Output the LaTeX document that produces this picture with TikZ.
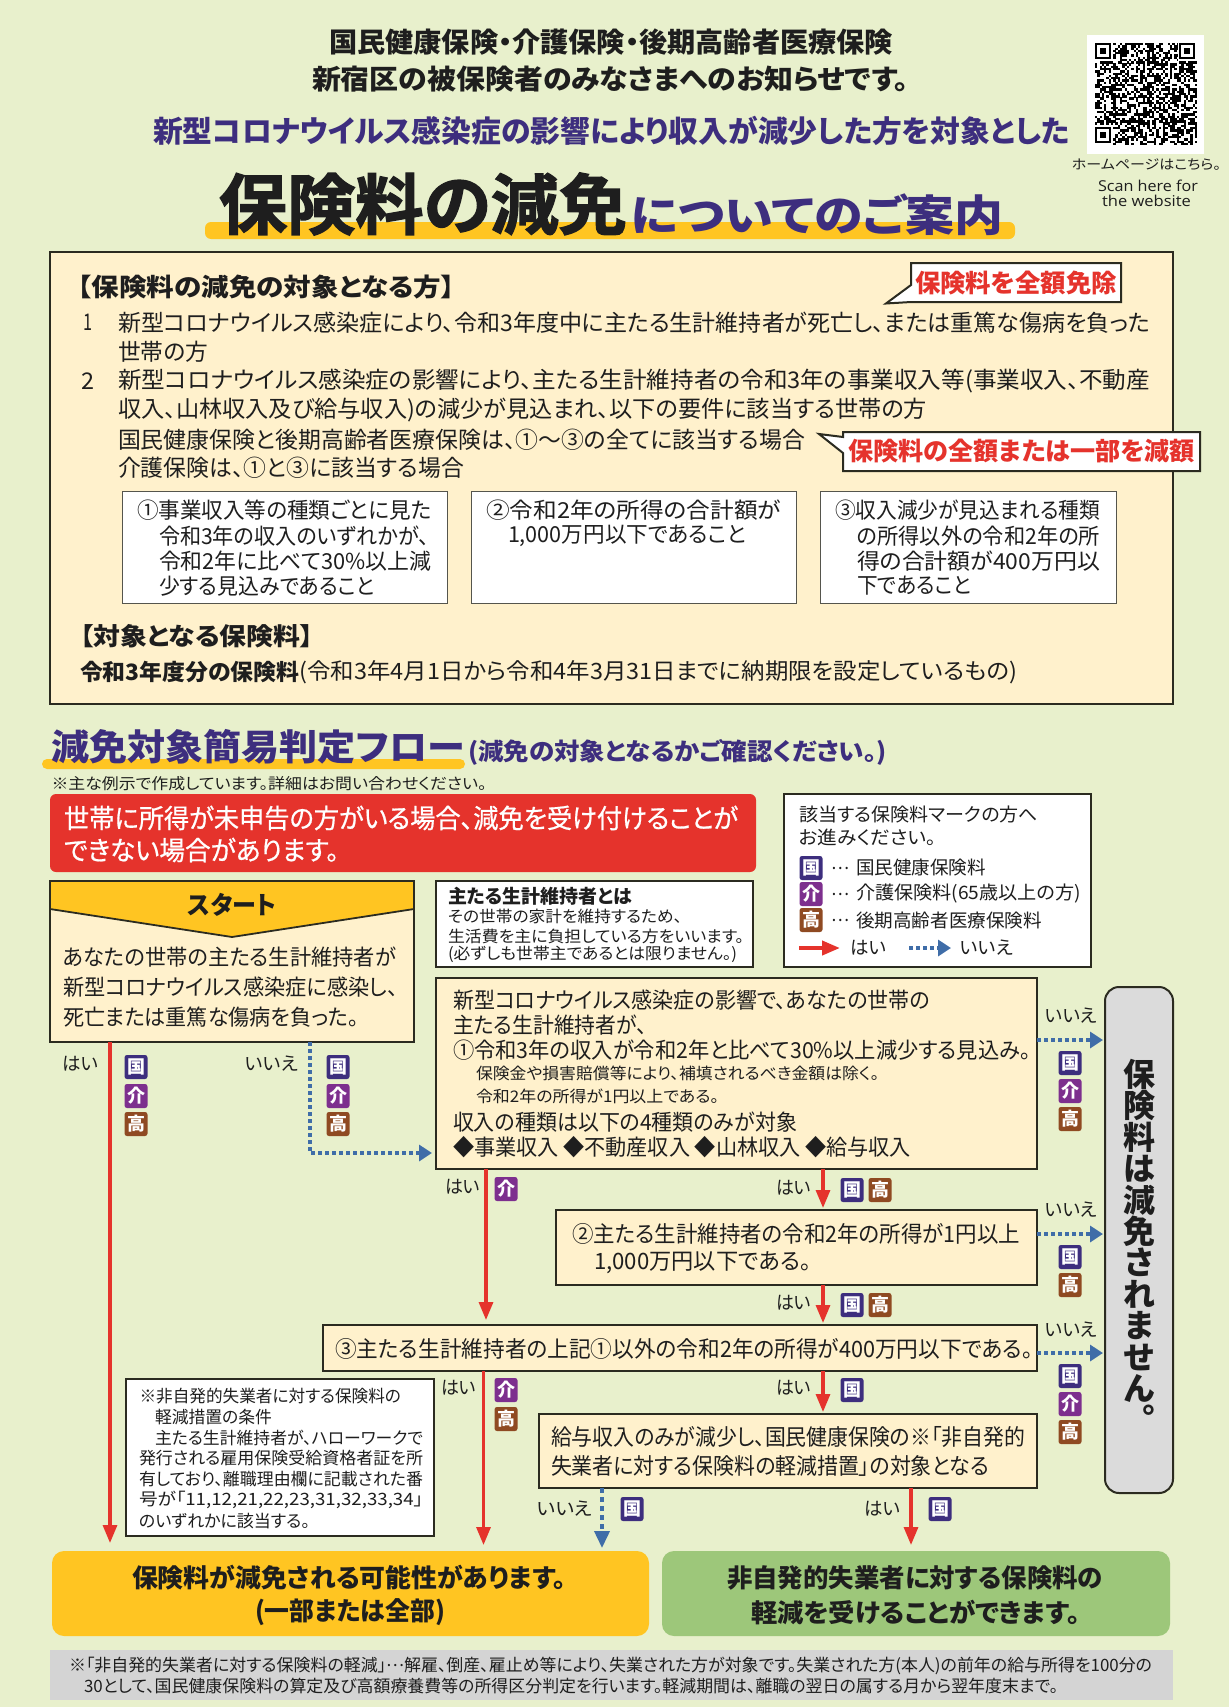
\documentclass[tikz,border=0pt]{standalone}
\usepackage{fontspec}
\usetikzlibrary{arrows.meta}
\setmainfont{Noto Sans CJK JP}[RawFeature=+palt]
\newfontfamily\jpblack{Noto Sans CJK JP Bold}[FakeBold=2,RawFeature=+palt]
\newfontfamily\jpmed{Noto Sans CJK JP}[FakeBold=0.7,RawFeature=+palt]
\newfontfamily\enfont{Open Sans}
\definecolor{bgc}{HTML}{E8F0CC}
\definecolor{cream}{HTML}{FFF1CC}
\definecolor{yel}{HTML}{FFC522}
\definecolor{redc}{HTML}{E5332C}
\definecolor{grn}{HTML}{9DC77A}
\definecolor{navy}{HTML}{3D2E7E}
\definecolor{purp}{HTML}{7D2F8E}
\definecolor{brwn}{HTML}{8F4A22}
\definecolor{blu}{HTML}{3F6DA8}
\definecolor{ink}{HTML}{1E1E1E}
\definecolor{edge}{HTML}{2B2B20}
\tikzset{
  f/.style={font=\fontsize{#1}{#1}\selectfont},
  fb/.style={font=\bfseries\fontsize{#1}{#1}\selectfont},
  fk/.style={font=\jpblack\fontsize{#1}{#1}\selectfont},
  fm/.style={font=\jpmed\fontsize{#1}{#1}\selectfont},
  txt/.style={anchor=west,inner sep=0pt,outer sep=0pt,text=ink},
  box/.style={draw=edge,line width=1.8pt,fill=cream,inner sep=0pt,outer sep=0pt,anchor=north west},
  wbox/.style={box,fill=white},
  sbox/.style={box,fill=white,line width=1pt,draw=edge!80},
  flat/.style={inner sep=0pt,outer sep=0pt,anchor=north west},
  yesarrow/.style={draw=redc,line width=3.2pt,-{Triangle[length=18pt,width=14pt,fill=redc]},shorten >=1pt},
  noarrow/.style={draw=blu,line width=3.6pt,dash pattern=on 4pt off 3pt,-{Triangle[length=13pt,width=16pt,fill=blu]}},
  noarrowv/.style={draw=blu,line width=3.6pt,dash pattern=on 5pt off 4pt,-{Triangle[length=17pt,width=15pt,fill=blu]}},
  badge/.style={rounded corners=2.5pt,inner sep=0pt,outer sep=0pt,minimum width=23pt,minimum height=24pt,text=white,font=\bfseries\fontsize{18}{18}\selectfont},
}
\newcounter{tc}\newcounter{bc}
\newcommand{\tx}[5]{\stepcounter{tc}\node[txt,#1] (t\arabic{tc}) at (#2,#4) {\vphantom{国}\resizebox{\dimexpr#3pt-#2pt\relax}{\height}{#5}};}
\newcommand{\txe}[5]{\stepcounter{tc}\node[txt,#1] (t\arabic{tc}) at (#2,#4) {\vphantom{Sp}\resizebox{\dimexpr#3pt-#2pt\relax}{\height}{#5}};}
\newcommand{\bxn}[6]{\node[#2,minimum width={#5pt-#3pt},minimum height={#6pt-#4pt}] (#1) at (#3,#4) {};}
\newcommand{\bdg}[4]{\stepcounter{bc}\node[badge,fill=#1] (b\arabic{bc}) at (#3,#4) {#2};}
\newcommand{\bdK}[2]{\bdg{navy}{国}{#1}{#2}}
\newcommand{\bdA}[2]{\bdg{purp}{介}{#1}{#2}}
\newcommand{\bdC}[2]{\bdg{brwn}{高}{#1}{#2}}
\newcommand{\midots}{\raisebox{.28em}{…}}
\begin{document}
\begin{tikzpicture}[x=1pt,y=-1pt]
\useasboundingbox (0,0) rectangle (1229,1707);
\fill[bgc] (0,0) rectangle (1229,1707);

% --- header
\tx{fb=27.5}{329}{893}{41.7}{国民健康保険・介護保険・後期高齢者医療保険}
\tx{fb=27.5}{312}{909}{79}{新宿区の被保険者のみなさまへのお知らせです。}
\tx{fb=30,text=navy}{153}{1070}{131}{新型コロナウイルス感染症の影響により収入が減少した方を対象とした}
\node[flat,fill=yel,rounded corners=6pt,minimum width=810pt,minimum height=17pt] (ul1) at (205,222) {};
\tx{fk=66}{219}{627}{204}{保険料の減免}
\tx{fb=43,text=navy}{631}{1003}{215}{についてのご案内}

% --- QR
\node[flat,fill=white,minimum width=117pt,minimum height=119pt] (qr) at (1087,35) {};
\begin{scope}[shift={(1095,43)}]
\pgfmathsetseed{4711}
\foreach \i in {0,...,44}{\foreach \j in {0,...,44}{%
  \pgfmathrandominteger{\rr}{0}{9}%
  \ifnum\rr<5 \fill[black] (\i*2.27,\j*2.27) rectangle ++(2.35,2.35);\fi}}
\foreach \ox/\oy in {0/0,37/0,0/37}{
  \fill[white] (\ox*2.27-1.5,\oy*2.27-1.5) rectangle ++(8*2.27+1,8*2.27+1);
  \fill[black] (\ox*2.27,\oy*2.27) rectangle ++(7*2.27,7*2.27);
  \fill[white] (\ox*2.27+2.27,\oy*2.27+2.27) rectangle ++(5*2.27,5*2.27);
  \fill[black] (\ox*2.27+4.54,\oy*2.27+4.54) rectangle ++(3*2.27,3*2.27);
}
\end{scope}
\tx{f=13.5}{1072}{1221}{165}{ホームページはこちら。}
\txe{font=\enfont\fontsize{15}{15}\selectfont}{1098}{1198}{188}{Scan here for}
\txe{font=\enfont\fontsize{15}{15}\selectfont}{1102}{1191}{203}{the website}

% --- main information box
\bxn{mainbox}{box}{50}{252}{1173}{704}
\tx{fb=25}{78}{455}{287}{【保険料の減免の対象となる方】}
\tx{f=23}{83}{92}{322.7}{1}
\tx{f=23}{118}{1150}{322.7}{新型コロナウイルス感染症により、令和3年度中に主たる生計維持者が死亡し、または重篤な傷病を負った}
\tx{f=23}{118}{208}{351.7}{世帯の方}
\tx{f=23}{81}{94}{381}{2}
\tx{f=23}{118}{1150}{381}{新型コロナウイルス感染症の影響により、主たる生計維持者の令和3年の事業収入等(事業収入、不動産}
\tx{f=23}{118}{927}{410}{収入、山林収入及び給与収入)の減少が見込まれ、以下の要件に該当する世帯の方}
\tx{f=23}{118}{805}{440}{国民健康保険と後期高齢者医療保険は、①～③の全てに該当する場合}
\tx{f=23}{118}{464}{468}{介護保険は、①と③に該当する場合}
% callouts
\draw[fill=white,draw=edge,line width=2pt,line join=miter] (911,263)--(1121,263)--(1121,302)--(911,302)--(886,303.5)--(911,285)--cycle;
\tx{fb=25,text=redc}{915}{1117}{283}{保険料を全額免除}
\draw[fill=white,draw=edge,line width=2pt,line join=miter] (843,432)--(1200,432)--(1200,471)--(843,471)--(843,453)--(819,434)--(843,437)--cycle;
\tx{fb=25,text=redc}{848.5}{1195}{451}{保険料の全額または一部を減額}
% requirement boxes
\bxn{req1}{sbox}{122}{491}{447}{603}
\bxn{req2}{sbox}{471}{491}{796}{603}
\bxn{req3}{sbox}{820}{491}{1116}{603}
\tx{f=22}{137}{431.5}{510}{①事業収入等の種類ごとに見た}
\tx{f=22}{159}{429}{536}{令和3年の収入のいずれかが、}
\tx{f=22}{159}{431}{561}{令和2年に比べて30\%以上減}
\tx{f=22}{159}{374.5}{586}{少する見込みであること}
\tx{f=22}{486}{781}{510}{②令和2年の所得の合計額が}
\tx{f=22}{508}{746}{536}{1,000万円以下であること}
\tx{f=22}{835}{1100}{510}{③収入減少が見込まれる種類}
\tx{f=22}{857}{1100}{536}{の所得以外の令和2年の所}
\tx{f=22}{857}{1100}{561}{得の合計額が400万円以}
\tx{f=22}{857}{971}{586}{下であること}
\tx{fb=24.5}{80}{314}{636}{【対象となる保険料】}
\tx{fb=22.5}{80}{299.5}{672}{令和3年度分の保険料}
\tx{f=22.5}{299.5}{1017}{672}{(令和3年4月1日から令和4年3月31日までに納期限を設定しているもの)}

% --- flow heading
\node[flat,fill=yel,rounded corners=5pt,minimum width=423pt,minimum height=10pt] (ul2) at (42,759) {};
\tx{fb=36,text=navy}{51.5}{465}{747}{減免対象簡易判定フロー}
\tx{fb=24,text=navy}{468}{887}{752}{(減免の対象となるかご確認ください。)}
\tx{f=15.5}{51.5}{486.6}{784}{※主な例示で作成しています。詳細はお問い合わせください。}

% --- banner
\node[flat,fill=redc,rounded corners=6pt,minimum width=706pt,minimum height=78pt] (banner) at (50,794) {};
\tx{fm=26.5,text=white}{64}{738}{818}{世帯に所得が未申告の方がいる場合、減免を受け付けることが}
\tx{fm=26.5,text=white}{64}{339}{850}{できない場合があります。}

% --- legend
\bxn{legend}{wbox}{784}{794}{1091}{967}
\tx{f=18.5}{799}{1038}{814}{該当する保険料マークの方へ}
\tx{f=18.5}{799}{936}{837}{お進みください。}
\bdK{811}{868}\bdA{811}{894}\bdC{811}{920}
\tx{f=18}{831}{849}{868}{\midots}
\tx{f=18}{831}{849}{894}{\midots}
\tx{f=18}{831}{849}{920}{\midots}
\tx{f=18.5}{856}{986}{868}{国民健康保険料}
\tx{f=18.5}{856}{1081}{894}{介護保険料(65歳以上の方)}
\tx{f=18.5}{856}{1042}{920}{後期高齢者医療保険料}
\coordinate (lya) at (799,948);\coordinate (lyb) at (841,948);
\coordinate (lna) at (909,948);\coordinate (lnb) at (951,948);
\draw[yesarrow,line width=4pt] (lya)--(lyb);
\draw[noarrow] (lna)--(lnb);
\tx{f=18.5}{850}{886}{948}{はい}
\tx{f=18.5}{960}{1013}{948}{いいえ}

% --- start box
\bxn{start}{box}{50}{881}{414}{1042}
\draw[fill=yel,draw=edge,line width=1.8pt] (50,881)--(414,881)--(414,909)--(232,937)--(50,909)--cycle;
\tx{fb=25}{188}{276}{905}{スタート}
\tx{f=22}{63}{396}{957}{あなたの世帯の主たる生計維持者が}
\tx{f=22}{63}{398}{987}{新型コロナウイルス感染症に感染し、}
\tx{f=22}{63}{359}{1017}{死亡または重篤な傷病を負った。}

% --- definition box
\bxn{defn}{wbox}{436}{881}{753}{967}
\tx{fb=19}{448}{632}{896}{主たる生計維持者とは}
\tx{f=16}{448}{682}{916}{その世帯の家計を維持するため、}
\tx{f=16}{448}{744}{936}{生活費を主に負担している方をいいます。}
\tx{f=16}{448}{737}{954}{(必ずしも世帯主であるとは限りません。)}

% --- decision boxes
\bxn{q1}{box}{436}{978}{1037}{1169}
\tx{f=22}{453}{930}{1000}{新型コロナウイルス感染症の影響で、あなたの世帯の}
\tx{f=22}{453}{647}{1025}{主たる生計維持者が、}
\tx{f=22}{453}{1031}{1050}{①令和3年の収入が令和2年と比べて30\%以上減少する見込み。}
\tx{f=16}{476}{879}{1073}{保険金や損害賠償等により、補填されるべき金額は除く。}
\tx{f=16}{476}{719}{1096}{令和2年の所得が1円以上である。}
\tx{f=22}{453}{797}{1122}{収入の種類は以下の4種類のみが対象}
\tx{f=22}{453}{911}{1147}{◆事業収入 ◆不動産収入 ◆山林収入 ◆給与収入}

\bxn{q2}{box}{556}{1210}{1037}{1285}
\tx{f=22.5}{572}{1020}{1234}{②主たる生計維持者の令和2年の所得が1円以上}
\tx{f=22.5}{594}{811}{1263}{1,000万円以下である。}

\bxn{q3}{box}{323}{1325}{1037}{1371}
\tx{f=22.5}{335}{1033}{1349}{③主たる生計維持者の上記①以外の令和2年の所得が400万円以下である。}

\bxn{q4}{box}{539}{1414}{1037}{1488}
\tx{f=22.5}{551}{1025}{1437}{給与収入のみが減少し、国民健康保険の※「非自発的}
\tx{f=22.5}{551}{989}{1466}{失業者に対する保険料の軽減措置」の対象となる}

% --- note box
\bxn{note}{wbox}{126}{1379}{434}{1536}
\tx{f=17}{139.5}{401}{1396}{※非自発的失業者に対する保険料の}
\tx{f=17}{155}{272}{1417}{軽減措置の条件}
\tx{f=17}{155}{423}{1438}{主たる生計維持者が、ハローワークで}
\tx{f=17}{139}{423}{1458}{発行される雇用保険受給資格者証を所}
\tx{f=17}{139}{423}{1479}{有しており、離職理由欄に記載された番}
\tx{f=17}{139}{423}{1500}{号が「11,12,21,22,23,31,32,33,34」}
\tx{f=17}{139}{310}{1521}{のいずれかに該当する。}

% --- result boxes
\node[flat,fill=yel,rounded corners=12pt,minimum width=597pt,minimum height=85pt] (res1) at (52,1551) {};
\node[flat,fill=grn,rounded corners=12pt,minimum width=508pt,minimum height=85pt] (res2) at (662,1551) {};
\tx{fb=25.5}{132}{566}{1578}{保険料が減免される可能性があります。}
\tx{fb=25.5}{255}{445}{1612}{(一部または全部)}
\tx{fb=25.5}{727}{1103}{1578}{非自発的失業者に対する保険料の}
\tx{fb=25.5}{751}{1080}{1612}{軽減を受けることができます。}

% --- "not reduced" box
\node[flat,fill=black!14,draw=edge,line width=2pt,rounded corners=14pt,minimum width=68pt,minimum height=506pt] (nope) at (1105,987) {};
\node[inner sep=0pt,anchor=north,align=center,text=ink,font=\bfseries\fontsize{32}{31.4}\selectfont] (nopetext) at (1139,1059) {保\\険\\料\\は\\減\\免\\さ\\れ\\ま\\せ\\ん\\︒};

% --- footnote
\node[flat,fill=black!17,minimum width=1123pt,minimum height=50pt] (foot) at (50,1650) {};
\tx{f=17}{69}{1152}{1666}{※「非自発的失業者に対する保険料の軽減」\midots 解雇、倒産、雇止め等により、失業された方が対象です。失業された方(本人)の前年の給与所得を100分の}
\tx{f=17}{84}{1058}{1686}{30として、国民健康保険料の算定及び高額療養費等の所得区分判定を行います。軽減期間は、離職の翌日の属する月から翌年度末まで。}

% --- connectors
\coordinate (cA) at (110,0);\coordinate (cB) at (310,0);\coordinate (cC) at (486,0);
\coordinate (cD) at (823,0);\coordinate (cE) at (483.5,0);\coordinate (cF) at (602,0);\coordinate (cG) at (911,0);
\draw[yesarrow,shorten >=8pt] (start.south -| cA) -- (res1.north -| cA);
\draw[noarrow] (start.south -| cB) |- ([xshift=-4pt]q1.west |- 0,1153);
\draw[yesarrow,shorten >=5pt] (q1.south -| cC) -- (q3.north -| cC);
\draw[yesarrow,shorten >=2pt] (q1.south -| cD) -- (q2.north -| cD);
\draw[yesarrow,shorten >=2pt] (q2.south -| cD) -- (q3.north -| cD);
\draw[yesarrow,shorten >=2pt] (q3.south -| cD) -- (q4.north -| cD);
\draw[yesarrow,shorten >=6pt] (q3.south -| cE) -- (res1.north -| cE);
\draw[yesarrow,shorten >=6pt] (q4.south -| cG) -- (res2.north -| cG);
\draw[noarrowv,shorten >=3pt] (q4.south -| cF) -- (res1.north -| cF);
\draw[noarrow,shorten >=2pt] (q1.east |- 0,1040) -- (nope.west |- 0,1040);
\draw[noarrow,shorten >=2pt] (q2.east |- 0,1234) -- (nope.west |- 0,1234);
\draw[noarrow,shorten >=2pt] (q3.east |- 0,1353) -- (nope.west |- 0,1353);

% --- badges and yes/no labels
\bdK{136}{1067}\bdA{136}{1096}\bdC{136}{1124}
\bdK{338}{1067}\bdA{338}{1096}\bdC{338}{1124}
\bdK{1070}{1063}\bdA{1070}{1091}\bdC{1070}{1119}
\bdA{506}{1189}
\bdK{852}{1190}\bdC{880}{1190}
\bdK{1070}{1257}\bdC{1070}{1285}
\bdK{852}{1305}\bdC{880}{1305}
\bdK{1070}{1376}\bdA{1070}{1404}\bdC{1070}{1432}
\bdA{506}{1390}\bdC{506}{1419}
\bdK{852}{1390}
\bdK{632}{1509}
\bdK{940}{1509}
\tx{f=18.5}{62}{98}{1064}{はい}
\tx{f=18.5}{245}{298}{1064}{いいえ}
\tx{f=18.5}{1045}{1097}{1016}{いいえ}
\tx{f=18.5}{445}{480}{1187}{はい}
\tx{f=18.5}{776}{811}{1188}{はい}
\tx{f=18.5}{1045}{1097}{1210}{いいえ}
\tx{f=18.5}{776}{811}{1303}{はい}
\tx{f=18.5}{1045}{1097}{1330}{いいえ}
\tx{f=18.5}{441}{476}{1388}{はい}
\tx{f=18.5}{776}{811}{1388}{はい}
\tx{f=18.5}{537}{592}{1509}{いいえ}
\tx{f=18.5}{864}{900}{1509}{はい}
\end{tikzpicture}
\end{document}
